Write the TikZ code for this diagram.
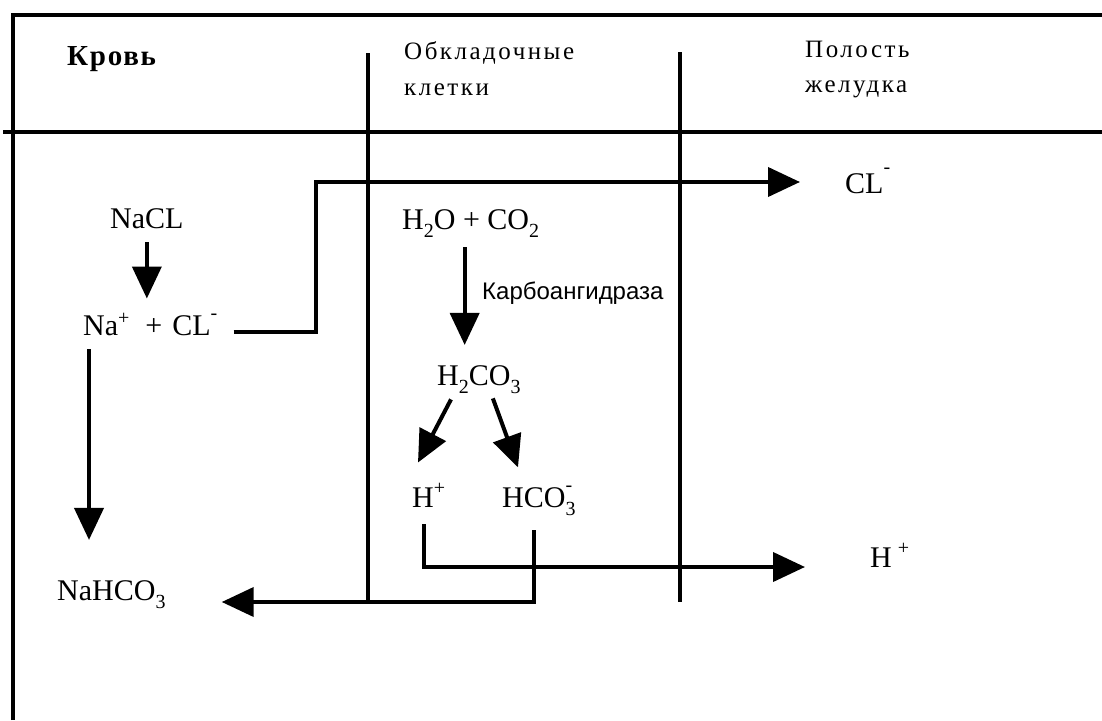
\documentclass[tikz,border=0pt]{standalone}
\usepackage{fontspec}
\setmainfont{Liberation Serif}
\newfontfamily\spacedfont[LetterSpace=10]{Liberation Serif}
\newfontfamily\titlefont[LetterSpace=6]{Liberation Serif}
\newfontfamily\sansfont{Liberation Sans}
\usetikzlibrary{arrows.meta,calc}
\definecolor{ink}{HTML}{000000}
\newcommand\chemsub[1]{\raisebox{-8pt}{\fontsize{20}{20}\selectfont #1}}
\newcommand\chemsup[1]{\raisebox{11pt}{\fontsize{20}{20}\selectfont #1}}
\newcommand\chemminus{\raisebox{16pt}{\fontsize{20}{20}\selectfont -}}
\tikzset{
  wall/.style={
    draw=ink,
    line width=4.5pt
  },
  arrow/.style={
    -{Triangle[length=32pt,width=29pt]},
    draw=ink,
    line width=4pt
  },
  chem/.style={
    inner sep=0pt,
    anchor=base west,
    text=ink,
    font=\fontsize{30}{36}\selectfont
  },
  head/.style={
    inner sep=0pt,
    anchor=base west,
    text=ink,
    font=\spacedfont\fontsize{25}{30}\selectfont
  },
  enzymelabel/.style={
    inner sep=0pt,
    anchor=base west,
    text=ink,
    font=\sansfont\fontsize{24}{29}\selectfont
  }
}

\begin{document}
\begin{tikzpicture}[x=1pt,y=-1pt]
  \useasboundingbox (0,0) rectangle (1102,720);

  \draw[wall] (13,720) -- (13,15) -- (1102,15);
  \draw[wall] (3,132) -- (1102,132);
  \draw[wall] (368,53) -- (368,602);
  \draw[wall] (680,52) -- (680,602);

  \node[head, font=\titlefont\bfseries\fontsize{29}{35}\selectfont] (blood) at (67,65) {Кровь};
  \node[head] (cellsa) at (404,59) {Обкладочные};
  \node[head] (cellsb) at (404,95) {клетки};
  \node[head] (cavitya) at (805,57) {Полость};
  \node[head] (cavityb) at (805,92) {желудка};

  \node[chem] (nacl) at (110,228) {NaCL};
  \node[chem] (ions) at (83,335)
    {Na\chemsup{+}\hspace{16pt}+\hspace{10pt}CL\chemminus};
  \node[chem] (nahco) at (57,600) {NaHCO\chemsub{3}};
  \node[chem] (water) at (402,229) {H\chemsub{2}O + CO\chemsub{2}};
  \node[enzymelabel] (enzyme) at (482,299) {Карбоангидраза};
  \node[chem] (carbonic) at (437,385) {H\chemsub{2}CO\chemsub{3}};
  \node[chem] (proton) at (412,507) {H\raisebox{13pt}{\fontsize{20}{20}\selectfont +}};
  \node[chem] (bicarb) at (502,507) {HCO\rlap{\chemsub{3}}\chemminus};
  \node[chem] (clout) at (845,193) {CL\raisebox{20pt}{\fontsize{20}{20}\selectfont -}};
  \node[chem] (hout) at (870,567) {H\hspace{6pt}\raisebox{13pt}{\fontsize{20}{20}\selectfont +}};

  \coordinate (clbend) at (316,182);

  \draw[arrow] ([yshift=-14pt]nacl.south) -- ([yshift=14pt]nacl.south |- ions.north);
  \draw[arrow] ([xshift=6pt,yshift=-14pt]ions.south west)
    -- ([xshift=6pt,yshift=40pt]ions.south west |- nahco.north);
  \draw[arrow] ([xshift=16pt,yshift=3pt]ions.base east) -| (clbend)
    -- ([xshift=-45pt]clbend -| clout.west);
  \draw[arrow] ([xshift=-6pt,yshift=-10pt]water.south) -- ([xshift=-6pt,yshift=20pt]water.south |- carbonic.north);
  \draw[arrow] ([xshift=14pt,yshift=-6pt]carbonic.south west) -- ([xshift=6pt,yshift=20pt]proton.north west);
  \draw[arrow] ([xshift=14pt,yshift=-5pt]carbonic.south) -- ([xshift=16pt,yshift=18pt]bicarb.north west);
  \draw[arrow] ([xshift=12pt,yshift=-17pt]proton.south west) |- ([xshift=-65pt]hout.base west);
  \draw[arrow] ([xshift=32pt,yshift=-15pt]bicarb.south west) |- ([xshift=56pt,yshift=-2pt]nahco.base east);
\end{tikzpicture}
\end{document}
